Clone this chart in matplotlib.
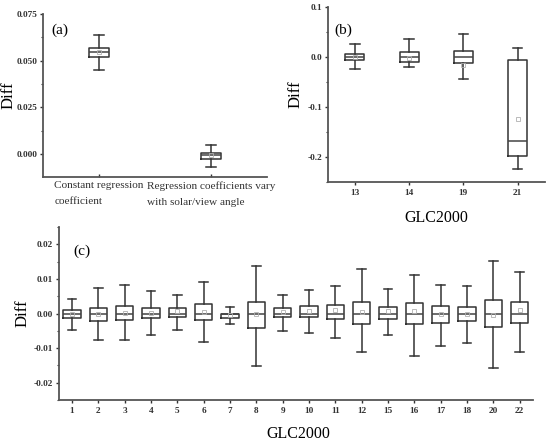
import matplotlib
matplotlib.use("Agg")
import matplotlib.pyplot as plt
from matplotlib.ticker import MultipleLocator

plt.rcParams['font.family'] = ['Liberation Serif', 'DejaVu Serif']

# (a) regression coefficient setup
a_labels = ["Constant regression\ncoefficient", "Regression coefficients vary\nwith solar/view angle"]
a_whislo = [0.0448, -0.0066]
a_q1 = [0.0520, -0.0024]
a_med = [0.0545, -0.0003]
a_q3 = [0.0566, 0.0005]
a_whishi = [0.0636, 0.0048]
a_mean = [0.0545, -0.0005]

# (b) GLC2000 classes
b_labels = ["13", "14", "19", "21"]
b_whislo = [-0.024, -0.020, -0.043, -0.224]
b_q1 = [-0.0067, -0.0094, -0.0114, -0.197]
b_med = [0.0, 0.0, 0.0, -0.167]
b_q3 = [0.0066, 0.011, 0.0126, -0.006]
b_whishi = [0.026, 0.036, 0.047, 0.019]
b_mean = [0.0, -0.002, -0.015, -0.123]

# (c) GLC2000 classes
c_labels = ["1", "2", "3", "4", "5", "6", "7", "8", "9", "10", "11", "12",
            "15", "16", "17", "18", "20", "22"]
c_whishi = [0.0041, 0.0074, 0.0083, 0.0065, 0.0055, 0.0091, 0.0019, 0.0136, 0.0054,
            0.0067, 0.0079, 0.0130, 0.0070, 0.0112, 0.0083, 0.0081, 0.0153, 0.0121]
c_q3 = [0.0009, 0.0017, 0.0022, 0.0017, 0.0016, 0.0027, 0.0000, 0.0032, 0.0015,
        0.0021, 0.0024, 0.0032, 0.0019, 0.0029, 0.0021, 0.0019, 0.0038, 0.0032]
c_med = [0.0, 0.0, 0.0, 0.0, 0.0, 0.0, -0.0001, 0.0, 0.0,
         0.0, 0.0, 0.0, 0.0, 0.0, 0.0, 0.0, 0.0, 0.0]
c_q1 = [-0.0013, -0.0022, -0.0019, -0.0014, -0.0010, -0.0018, -0.0014, -0.0043, -0.0011,
        -0.0011, -0.0016, -0.0031, -0.0015, -0.0031, -0.0026, -0.0023, -0.0040, -0.0028]
c_whislo = [-0.0047, -0.0077, -0.0076, -0.0061, -0.0047, -0.0082, -0.0031, -0.0152, -0.0050,
            -0.0056, -0.0072, -0.0110, -0.0061, -0.0122, -0.0095, -0.0084, -0.0156, -0.0110]
c_mean = [0.0, 0.0, 0.0002, 0.0001, 0.0007, 0.0005, -0.0004, 0.0, 0.0004,
          0.0008, 0.0010, 0.0004, 0.0006, 0.0008, 0.0, 0.0, -0.0004, 0.0009]

edge = '#333333'
tick_fs = 6.7


def make_stats(labels, whislo, q1, med, q3, whishi, mean):
    stats = []
    for i in range(len(labels)):
        stats.append(dict(label=labels[i], whislo=whislo[i], q1=q1[i], med=med[i],
                          q3=q3[i], whishi=whishi[i], mean=mean[i], fliers=[]))
    return stats


def draw_boxes(ax, stats, width):
    n = len(stats)
    ax.bxp(stats, positions=range(1, n + 1), widths=width, capwidths=width * 0.5,
           showmeans=True, showfliers=False,
           boxprops=dict(color=edge, linewidth=1.1),
           whiskerprops=dict(color=edge, linewidth=1.1),
           capprops=dict(color=edge, linewidth=1.1),
           medianprops=dict(color='#444444', linewidth=1.1),
           meanprops=dict(marker='s', markersize=2.5, markerfacecolor='none',
                          markeredgecolor='#b0b0b0', markeredgewidth=0.6))
    ax.set_xlim(0.5, n + 0.5)
    for s in ['top', 'right']:
        ax.spines[s].set_visible(False)
    for s in ['left', 'bottom']:
        ax.spines[s].set_color('#555555')
        ax.spines[s].set_linewidth(1.3)
    ax.tick_params(axis='both', colors='#333333', length=2.5, width=1, direction='out')
    ax.tick_params(axis='y', pad=1.5)
    ax.tick_params(axis='x', pad=2.5)
    ax.tick_params(which='minor', length=1.8, width=0.8, colors='#333333')


fig = plt.figure(figsize=(5.5, 4.43), dpi=100)

# panel (a)
ax1 = fig.add_axes([0.078, 0.6005, 0.407, 0.368])
draw_boxes(ax1, make_stats(a_labels, a_whislo, a_q1, a_med, a_q3, a_whishi, a_mean), 0.18)
ax1.set_ylim(-0.0122, 0.075)
ax1.set_yticks([0.0, 0.025, 0.05, 0.075])
ax1.yaxis.set_minor_locator(MultipleLocator(0.0125))
ax1.set_yticklabels(['0.000', '0.025', '0.050', '0.075'], fontweight='bold', fontsize=tick_fs)
ax1.tick_params(axis='x', direction='in', labelsize=8.1, pad=3)
for lbl in ax1.get_xticklabels():
    lbl.set_multialignment('left')
    lbl.set_linespacing(2.0)
ax1.set_ylabel('Diff', fontsize=12)
ax1.yaxis.set_label_coords(-0.12, 0.5)
ax1.text(0.04, 0.88, '(a)', transform=ax1.transAxes, fontsize=11)

# panel (b)
ax2 = fig.add_axes([0.596, 0.589, 0.3945, 0.395])
draw_boxes(ax2, make_stats(b_labels, b_whislo, b_q1, b_med, b_q3, b_whishi, b_mean), 0.35)
ax2.set_ylim(-0.25, 0.1)
ax2.set_yticks([-0.2, -0.1, 0.0, 0.1])
ax2.yaxis.set_minor_locator(MultipleLocator(0.05))
ax2.set_yticklabels(['-0.2', '-0.1', '0.0', '0.1'], fontweight='bold', fontsize=tick_fs)
for lbl in ax2.get_xticklabels():
    lbl.set_fontweight('bold')
    lbl.set_fontsize(tick_fs)
ax2.set_ylabel('Diff', fontsize=12)
ax2.yaxis.set_label_coords(-0.11, 0.5)
ax2.set_xlabel('GLC2000', fontsize=11.5)
ax2.xaxis.set_label_coords(0.5, -0.16)
ax2.text(0.03, 0.85, '(b)', transform=ax2.transAxes, fontsize=11)

# panel (c)
ax3 = fig.add_axes([0.1067, 0.097, 0.862, 0.3905])
draw_boxes(ax3, make_stats(c_labels, c_whislo, c_q1, c_med, c_q3, c_whishi, c_mean), 0.66)
ax3.set_ylim(-0.025, 0.025)
ax3.set_yticks([-0.02, -0.01, 0.0, 0.01, 0.02])
ax3.yaxis.set_minor_locator(MultipleLocator(0.005))
ax3.set_yticklabels(['-0.02', '-0.01', '0.00', '0.01', '0.02'], fontweight='bold', fontsize=tick_fs)
for lbl in ax3.get_xticklabels():
    lbl.set_fontweight('bold')
    lbl.set_fontsize(tick_fs)
ax3.set_ylabel('Diff', fontsize=12)
ax3.yaxis.set_label_coords(-0.06, 0.5)
ax3.set_xlabel('GLC2000', fontsize=11.5)
ax3.xaxis.set_label_coords(0.505, -0.15)
ax3.text(0.03, 0.84, '(c)', transform=ax3.transAxes, fontsize=11)

fig.savefig('out.png', dpi=100)
